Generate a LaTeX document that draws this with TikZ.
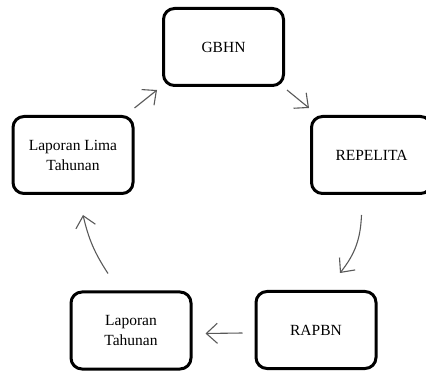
\documentclass[tikz,border=0pt]{standalone}
\usepackage{fontspec}
\setmainfont{Liberation Serif}
\usetikzlibrary{arrows.meta}

\begin{document}
\begin{tikzpicture}[x=1pt, y=-1pt,
  box/.style={draw, line width=3pt, rounded corners=11pt, fill=white,
    minimum width=120pt, minimum height=77pt, align=center,
    font=\fontsize{15.5}{20}\selectfont},
  flow/.style={draw=black!65, line width=1.1pt,
    -{Straight Barb[length=11pt, width=20pt, line width=1.1pt]}}]
\useasboundingbox (0,0) rectangle (426,374);
% Cycle boxes
\node[box] (gbhn) at (223.5,47) {GBHN};
\node[box] (repelita) at (371.5,155) {REPELITA};
\node[box] (rapbn) at (316,330) {RAPBN};
\node[box] (tahunan) at (131,330.5) {Laporan\\Tahunan};
\node[box] (lima) at (73,155) {Laporan Lima\\Tahunan};
% Arrows
\draw[flow] ([shift={(0,-7)}]lima.north east) -- ([shift={(-5,3)}]gbhn.south west);
\draw[flow] ([shift={(2,3)}]gbhn.south east) -- ([shift={(-1,-7)}]repelita.north west);
\draw[flow] ([shift={(-10,20)}]repelita.south) to[bend left=18] ([shift={(24,-17)}]rapbn.north);
\draw[flow] ([shift={(-12,3)}]rapbn.west) -- ([shift={(13,3)}]tahunan.east);
\draw[flow] ([shift={(-23,-17)}]tahunan.north) to[bend left=10] ([shift={(10,20)}]lima.south);
\end{tikzpicture}
\end{document}
